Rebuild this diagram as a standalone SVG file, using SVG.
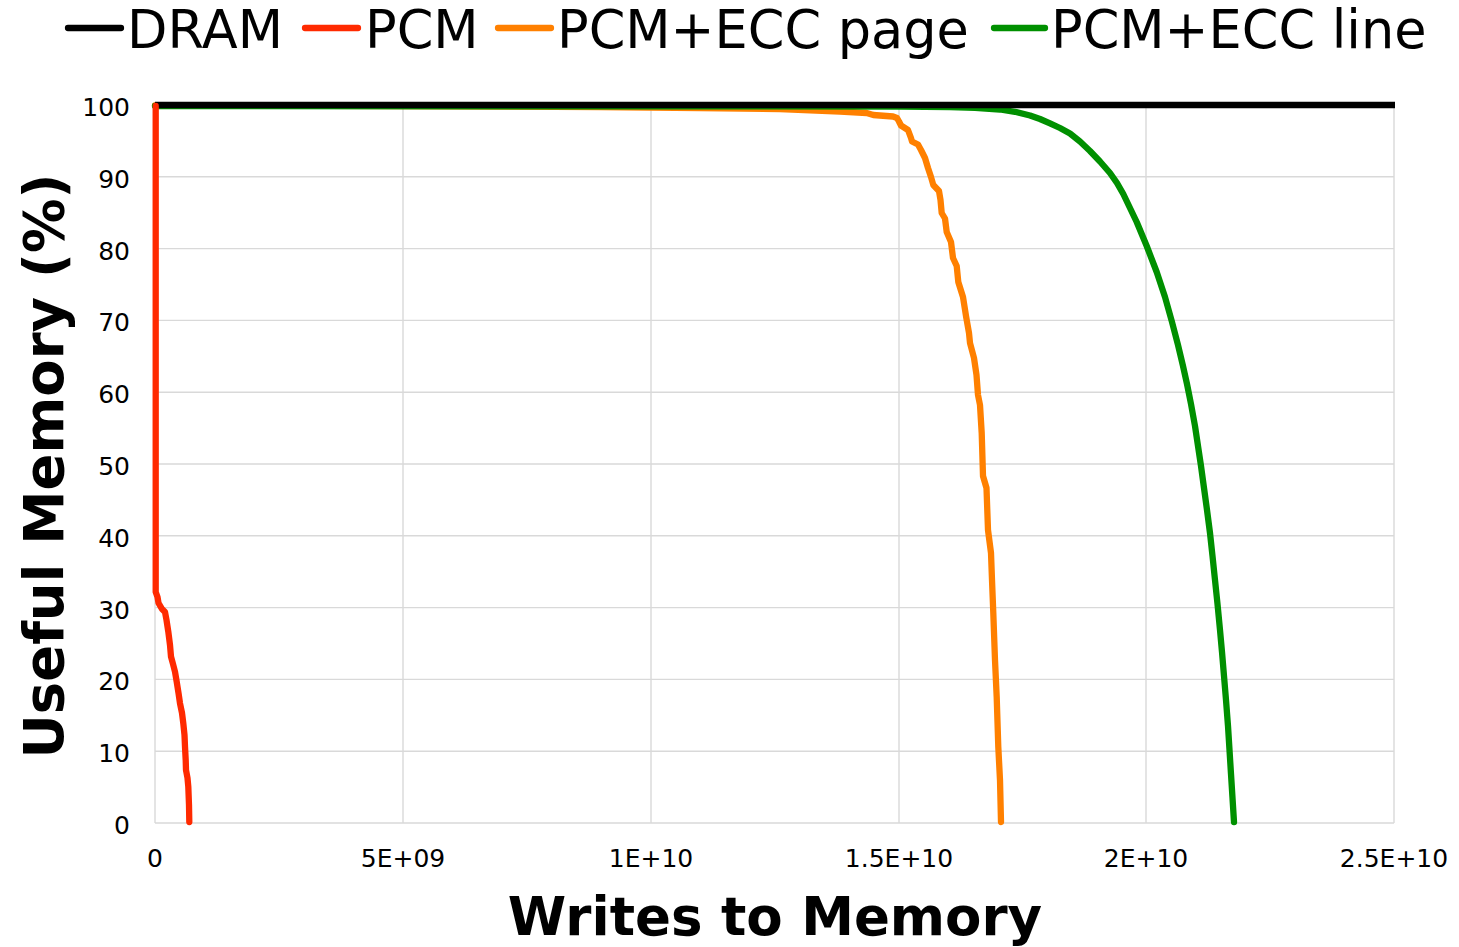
<svg xmlns="http://www.w3.org/2000/svg" width="1459" height="947" viewBox="0 0 1459 947">
<style>
.grid{stroke:#d9d9d9;stroke-width:1.4;fill:none}
.tick{font-family:"DejaVu Sans",Verdana,sans-serif;font-size:25px;fill:#000}
.leg{font-family:"DejaVu Sans",Verdana,sans-serif;font-size:52.5px;fill:#000}
.title{font-family:"DejaVu Sans",Verdana,sans-serif;font-weight:bold;fill:#000}
.s{fill:none;stroke-width:6.3;stroke-linecap:round;stroke-linejoin:round}
.dram{stroke:#000}
.pcm{stroke:#ff2a00}
.page{stroke:#ff8000}
.line{stroke:#009000}
</style>
<rect width="1459" height="947" fill="#fff"/>
<g id="gridlines">
<path class="grid" d="M155 105H1394M155 176.8H1394M155 248.6H1394M155 320.4H1394M155 392.2H1394M155 464H1394M155 535.8H1394M155 607.6H1394M155 679.4H1394M155 751.2H1394M155 823H1394"/>
<path class="grid" d="M155 105V823M403 105V823M651 105V823M899 105V823M1146 105V823M1394 105V823"/>
</g>
<g id="y-ticks" class="tick" text-anchor="end">
<text x="130" y="116">100</text>
<text x="130" y="187.8">90</text>
<text x="130" y="259.6">80</text>
<text x="130" y="331.4">70</text>
<text x="130" y="403.2">60</text>
<text x="130" y="475">50</text>
<text x="130" y="546.8">40</text>
<text x="130" y="618.6">30</text>
<text x="130" y="690.4">20</text>
<text x="130" y="762.2">10</text>
<text x="130" y="834">0</text>
</g>
<g id="x-ticks" class="tick" text-anchor="middle">
<text x="155" y="867">0</text>
<text x="403" y="867">5E+09</text>
<text x="651" y="867">1E+10</text>
<text x="899" y="867">1.5E+10</text>
<text x="1146" y="867">2E+10</text>
<text x="1394" y="867">2.5E+10</text>
</g>
<g id="axis-titles" class="title" text-anchor="middle">
<text x="775" y="935" font-size="53">Writes to Memory</text>
<text transform="translate(63,466) rotate(-90)" font-size="54.5">Useful Memory (%)</text>
</g>
<g id="connectors">
<polyline id="series-page" class="s page" points="155,105.5 400,106 600,107 700,108 780,109 840,111.5 866.7,113 873.3,115 893,116.5 897,118 899,121.5 901,125.5 908,130 911,138 912,141.5 918,144.5 921,150 925,158 928,168 931,177 933.3,185 939,191 940.5,200 941.7,213 945,218.5 946.7,232 951,242 953,258 956.7,266 958.3,282 963,297 966,316 969,333 970,343 974,358 976.5,375 978,395 980,405 981.7,433 983,476 986.5,488 988,530 991,553 992,580 993.3,613 995,660 996.7,697 998.3,747 1000,780 1001,822"/>
<polyline id="series-line" class="s line" points="155,106 900,106.5 950,107 975,107.8 1000,109.5 1015,111.8 1030,115.5 1040,119 1050,123.3 1060,128 1070,133.5 1080,141.5 1090,151 1100,161.5 1110,173 1117,183 1123.3,194 1130,208 1136.7,222 1146.7,246 1156.7,272 1165,297 1172,322 1178,345 1183,366 1187,384 1191,404 1195,426 1198,446 1201,466 1204,488 1207,510 1210,533 1212.5,556 1215,580 1217.5,604 1220,630 1222,652 1224,676 1226,700 1228,726 1229.5,750 1231,774 1232.5,798 1234,822"/>
<polyline id="series-dram" class="s dram" points="155,105 1395,105" style="stroke-linecap:butt"/>
<polyline id="series-pcm" class="s pcm" points="155.7,106 155.7,592 157.5,597 158.5,603 162,609 165,612 166.5,620 168.3,631.7 170,645 171,656.7 173,664 175,671.7 176.7,681.7 178.5,693 180,703.3 182,713 183.3,723.3 184.5,735 185,746.7 185.7,760 186,770 187.5,778 188.3,786.7 189,805 189.3,822"/>
</g>
<g id="legend">
<g id="legend-dram"><line class="s dram" x1="68" y1="28" x2="121" y2="28"/><text class="leg" x="127" y="48">DRAM</text></g>
<g id="legend-pcm"><line class="s pcm" x1="305" y1="28" x2="358" y2="28"/><text class="leg" x="365" y="48">PCM</text></g>
<g id="legend-page"><line class="s page" x1="498" y1="28" x2="551" y2="28"/><text class="leg" x="557" y="48">PCM+ECC page</text></g>
<g id="legend-line"><line class="s line" x1="994" y1="28" x2="1045" y2="28"/><text class="leg" x="1051" y="48">PCM+ECC line</text></g>
</g>
</svg>
